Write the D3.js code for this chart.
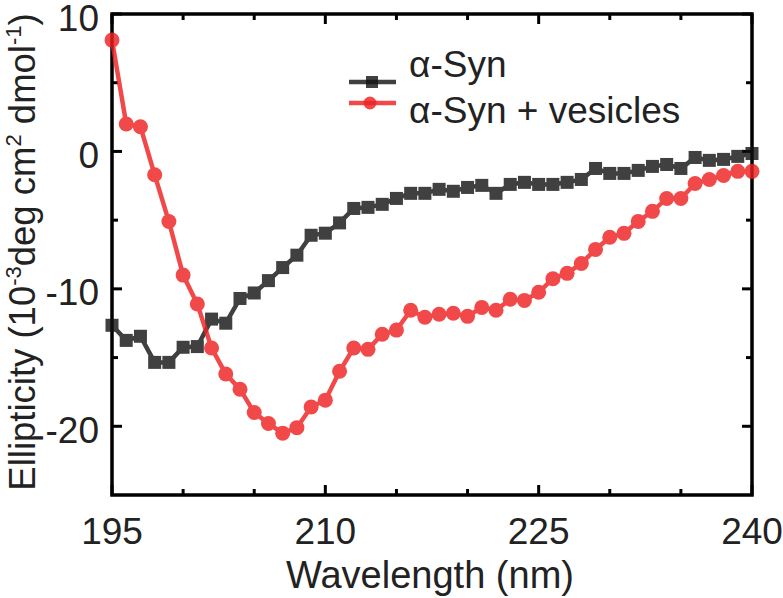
<!DOCTYPE html>
<html><head><meta charset="utf-8">
<script src="https://cdn.jsdelivr.net/npm/d3@7/dist/d3.min.js"></script>
<style>body{margin:0;background:#fff}svg{display:block}text{font-family:"Liberation Sans",Arial,sans-serif}</style>
</head><body><svg id="c" width="783" height="598"></svg>
<script>
const wavelengths = d3.range(195, 241);
const synValues = [-12.65,-13.75,-13.45,-15.35,-15.35,-14.25,-14.2,-12.2,-12.5,-10.7,-10.3,-9.4,-8.45,-7.55,-6.1,-5.95,
  -5.2,-4.15,-4.07,-3.85,-3.42,-3.05,-3.05,-2.76,-2.9,-2.62,-2.47,-3.05,-2.4,-2.25,-2.4,
  -2.4,-2.25,-2.04,-1.24,-1.6,-1.6,-1.38,-1.09,-0.95,-1.24,-0.44,-0.65,-0.58,-0.36,-0.15];
const vesValues = [8.1,2.0,1.8,-1.7,-5.1,-9.0,-11.1,-14.3,-16.2,-17.3,-19.0,-19.8,-20.5,-20.1,-18.6,-18.1,
  -16.0,-14.3,-14.4,-13.3,-13.0,-11.56,-12.07,-11.85,-11.78,-12.0,-11.35,-11.56,-10.76,-10.84,-10.25,
  -9.26,-8.87,-8.15,-7.13,-6.25,-5.96,-5.09,-4.36,-3.42,-3.42,-2.33,-2.04,-1.75,-1.45,-1.45];
const xTickLabels = [195, 210, 225, 240];
const xMinorTicks = [200, 205, 215, 220, 230, 235];
const yTickLabels = [10, 0, -10, -20];
const yMinorTicks = [5, -5, -15];
const seriesNames = ["α-Syn", "α-Syn + vesicles"];

const svg = d3.select("#c");
const L = 112, R = 752, T = 14, B = 495;
const x = d3.scaleLinear().domain([195, 240]).range([L, R]);
const y = d3.scaleLinear().domain([-25, 10]).range([B, T]);
const fs = 37;

// ticks (inward, all four sides)
const tk = svg.append("g").attr("stroke", "#000").attr("stroke-width", 3);
const addX = (vals, len) => vals.forEach(v => {
  tk.append("line").attr("x1", x(v)).attr("x2", x(v)).attr("y1", B).attr("y2", B - len);
  tk.append("line").attr("x1", x(v)).attr("x2", x(v)).attr("y1", T).attr("y2", T + len);
});
const addY = (vals, len) => vals.forEach(v => {
  tk.append("line").attr("y1", y(v)).attr("y2", y(v)).attr("x1", L).attr("x2", L + len);
  tk.append("line").attr("y1", y(v)).attr("y2", y(v)).attr("x1", R).attr("x2", R - len);
});
addX(xTickLabels, 10); addX(xMinorTicks, 6);
addY(yTickLabels, 10); addY(yMinorTicks, 6);

svg.append("rect").attr("x", L).attr("y", T).attr("width", R - L).attr("height", B - T)
  .attr("fill", "none").attr("stroke", "#000").attr("stroke-width", 3.5);

// tick labels
svg.append("g").selectAll("text").data(xTickLabels).join("text")
  .attr("x", d => x(d)).attr("y", 544).attr("text-anchor", "middle")
  .attr("font-size", fs).attr("fill", "#222").text(d => d);
svg.append("g").selectAll("text").data(yTickLabels).join("text")
  .attr("x", 99).attr("y", d => y(d) + 16.5).attr("text-anchor", "end")
  .attr("font-size", fs).attr("fill", "#222").text(d => d);

svg.append("text").attr("x", (L + R) / 2 - 2).attr("y", 588).attr("text-anchor", "middle")
  .attr("font-size", 38).attr("fill", "#222").text("Wavelength (nm)");

const yt = svg.append("text").attr("transform", "translate(35,252) rotate(-90)")
  .attr("text-anchor", "middle").attr("font-size", 36.5).attr("fill", "#222");
yt.append("tspan").text("Ellipticity (10");
yt.append("tspan").attr("dy", -14).attr("font-size", 22).text("-3");
yt.append("tspan").attr("dy", 14).text("deg cm");
yt.append("tspan").attr("dy", -14).attr("font-size", 22).text("2");
yt.append("tspan").attr("dy", 14).text(" dmol");
yt.append("tspan").attr("dy", -14).attr("font-size", 22).text("-1");
yt.append("tspan").attr("dy", 14).text(")");

// series
const synData = wavelengths.map((w, i) => [w, synValues[i]]);
const vesData = wavelengths.map((w, i) => [w, vesValues[i]]);
const line = d3.line().x(d => x(d[0])).y(d => y(d[1]));
const black = "#111", red = "#ee2222";

const g1 = svg.append("g").attr("opacity", 0.8);
g1.append("path").datum(synData).attr("d", line).attr("fill", "none").attr("stroke", black).attr("stroke-width", 4.5);
g1.selectAll("rect").data(synData).join("rect")
  .attr("x", d => x(d[0]) - 6.5).attr("y", d => y(d[1]) - 6.5).attr("width", 13).attr("height", 13)
  .attr("fill", black);

const g2 = svg.append("g").attr("opacity", 0.82);
g2.append("path").datum(vesData).attr("d", line).attr("fill", "none").attr("stroke", red).attr("stroke-width", 4.5);
g2.selectAll("circle").data(vesData).join("circle")
  .attr("cx", d => x(d[0])).attr("cy", d => y(d[1])).attr("r", 7.5).attr("fill", red);

// legend
const lg = svg.append("g");
lg.append("line").attr("x1", 349).attr("x2", 396).attr("y1", 82).attr("y2", 82)
  .attr("stroke", black).attr("stroke-width", 4.5).attr("opacity", 0.8);
lg.append("rect").attr("x", 366).attr("y", 76).attr("width", 12).attr("height", 12).attr("fill", black).attr("opacity", 0.8);
lg.append("line").attr("x1", 349).attr("x2", 396).attr("y1", 103).attr("y2", 103)
  .attr("stroke", red).attr("stroke-width", 4.5).attr("opacity", 0.82);
lg.append("circle").attr("cx", 370).attr("cy", 103).attr("r", 6.5).attr("fill", red).attr("opacity", 0.82);
lg.append("text").attr("x", 409).attr("y", 77).attr("font-size", fs).attr("fill", "#222").text(seriesNames[0]);
lg.append("text").attr("x", 409).attr("y", 123).attr("font-size", fs).attr("fill", "#222").text(seriesNames[1]);
</script></body></html>
